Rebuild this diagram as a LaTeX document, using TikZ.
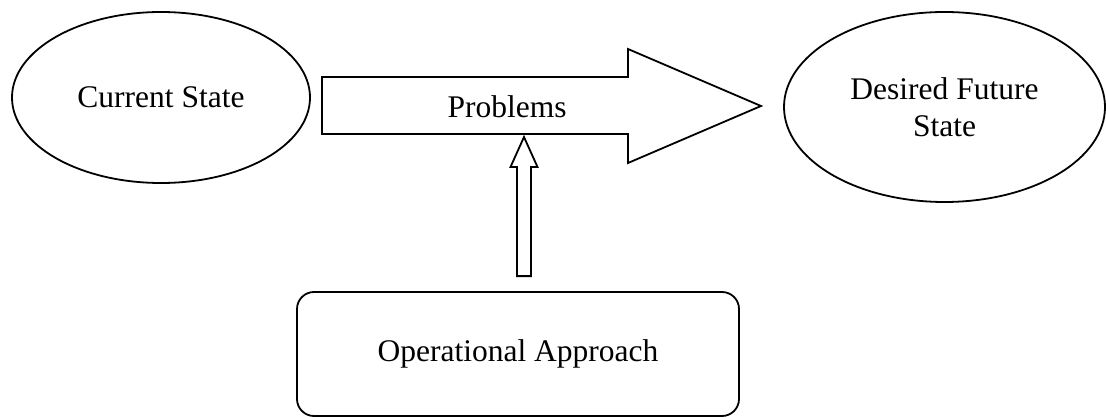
\documentclass[tikz,border=0pt]{standalone}
\usepackage{fontspec}
\setmainfont{Liberation Serif}
\usetikzlibrary{shapes.geometric,calc}
\begin{document}
\begin{tikzpicture}[x=1pt,y=-1pt,line width=1.8pt,
  every node/.style={font=\fontsize{31.5}{37}\selectfont},
  ell/.style={draw,ellipse,inner sep=0pt,align=center},
  opbox/.style={draw,rounded corners=17pt,inner sep=0pt,align=center},
  blockarrow/.style={draw,fill=white,line join=miter}]
\useasboundingbox (0,0) rectangle (1106,417);
\node[ell,minimum width=298pt,minimum height=171pt] (cur) at (161,97.5) {Current State};
\node[ell,minimum width=321pt,minimum height=190pt] (des) at (944.5,107) {Desired Future\\State};
\node[opbox,minimum width=442pt,minimum height=124pt] (op) at (518,354) {Operational Approach};
% big block arrow
\coordinate (ba) at (322,105.5);
\coordinate (tip) at (761,106);
\draw[blockarrow] ($(ba)+(0,-28.5)$) -- (628,77) -- (628,49) -- (tip) -- (628,163) -- (628,134) -- ($(ba)+(0,28.5)$) -- cycle;
\node (prob) at (507,107) {Problems};
% vertical block arrow
\coordinate (vb) at ($(op.north)+(6,-15)$);
\coordinate (vt) at (524,137);
\draw[blockarrow] ($(vb)+(-7,0)$) -- ($(vt)+(-7,30)$) -- ($(vt)+(-13.5,30)$) -- (vt) -- ($(vt)+(13.5,30)$) -- ($(vt)+(7,30)$) -- ($(vb)+(7,0)$) -- cycle;
\end{tikzpicture}
\end{document}
